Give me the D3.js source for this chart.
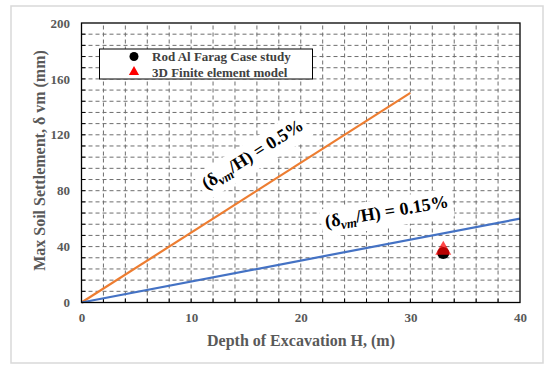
<!DOCTYPE html>
<html><head><meta charset="utf-8">
<script src="https://cdn.jsdelivr.net/npm/d3@7"></script>
<style>body{margin:0;background:#fff}svg{display:block}</style>
</head><body>
<script>
// ---- data ----
const orangeH = [0, 30];
const orangeS = [0, 150];      // δvm/H = 0.5%
const blueH = [0, 40];
const blueS = [0, 60];         // δvm/H = 0.15%
const caseStudyH = [33];
const caseStudyS = [35.4];
const femH = [33];
const femS = [37.5];
const xTicks = [0, 10, 20, 30, 40];
const yTicks = [0, 40, 80, 120, 160, 200];
const legendLabels = ["Rod Al Farag Case study", "3D Finite element model"];

const W = 550, H = 372;
const svg = d3.select("body").append("svg").attr("width", W).attr("height", H);
const font = "'Liberation Serif','Times New Roman',serif";

// outer frame
svg.append("rect").attr("x", 11).attr("y", 6).attr("width", 532).attr("height", 357)
  .attr("fill", "#fff").attr("stroke", "#d9d9d9").attr("stroke-width", 1.5);

const x = d3.scaleLinear().domain([0, 40]).range([81.5, 520]);
const y = d3.scaleLinear().domain([0, 200]).range([302.5, 23]);

// grid
const g = svg.append("g");
g.selectAll(".hg").data(d3.range(8, 200, 8)).enter().append("line")
  .attr("x1", x(0)).attr("x2", x(40)).attr("y1", d => y(d)).attr("y2", d => y(d))
  .attr("stroke", "#6e6e6e").attr("stroke-width", 1).attr("stroke-dasharray", "4,3");
g.selectAll(".vg").data(d3.range(2, 40, 2)).enter().append("line")
  .attr("y1", y(0)).attr("y2", y(200)).attr("x1", d => x(d)).attr("x2", d => x(d))
  .attr("stroke", "#6e6e6e").attr("stroke-width", 1).attr("stroke-dasharray", "4,3");

// inner minor ticks
g.selectAll(".xt").data(d3.range(2, 40, 2)).enter().append("line")
  .attr("x1", d => x(d)).attr("x2", d => x(d)).attr("y1", y(0)).attr("y2", y(0) - 4)
  .attr("stroke", "#000").attr("stroke-width", 1);
g.selectAll(".yt").data(d3.range(8, 200, 8)).enter().append("line")
  .attr("y1", d => y(d)).attr("y2", d => y(d)).attr("x1", x(0)).attr("x2", x(0) + 4)
  .attr("stroke", "#000").attr("stroke-width", 1);

// annotation text with white background
function annot(px, py, angle, pct) {
  const grp = svg.append("g").attr("transform", `translate(${px},${py}) rotate(${angle})`);
  const bg = grp.append("rect").attr("fill", "#fff");
  const t = grp.append("text").attr("font-family", font).attr("font-weight", "bold")
    .attr("font-size", 18).attr("fill", "#000");
  t.append("tspan").text("(δ");
  t.append("tspan").attr("font-style", "italic").attr("font-size", 13).attr("dy", 4).text("vm");
  t.append("tspan").attr("dy", -4).text("/H) = " + pct);
  const b = t.node().getBBox();
  bg.attr("x", b.x - 4).attr("y", b.y - 3).attr("width", b.width + 8).attr("height", b.height + 6);
}
annot(x(11.4), y(80.5), -32, "0.5%");
annot(x(22.3), y(53.5), -9.5, "0.15%");

// lines
const line = d3.line().x(d => x(d[0])).y(d => y(d[1]));
svg.append("path").datum(orangeH.map((h, i) => [h, orangeS[i]])).attr("d", line)
  .attr("fill", "none").attr("stroke", "#ed7d31").attr("stroke-width", 2.2);
svg.append("path").datum(blueH.map((h, i) => [h, blueS[i]])).attr("d", line)
  .attr("fill", "none").attr("stroke", "#4472c4").attr("stroke-width", 2.2);

// plot border
svg.append("rect").attr("x", x(0)).attr("y", y(200)).attr("width", x(40) - x(0)).attr("height", y(0) - y(200))
  .attr("fill", "none").attr("stroke", "#000").attr("stroke-width", 1.3);

// points
svg.selectAll(".cs").data(caseStudyH.map((h, i) => [h, caseStudyS[i]])).enter().append("circle")
  .attr("cx", d => x(d[0])).attr("cy", d => y(d[1])).attr("r", 6).attr("fill", "#000");
svg.selectAll(".fem").data(femH.map((h, i) => [h, femS[i]])).enter().append("path")
  .attr("d", d3.symbol().type(d3.symbolTriangle).size(111))
  .attr("transform", d => `translate(${x(d[0])},${y(d[1])})`).attr("fill", "#ff0000").attr("fill-opacity", 0.72);

// axes labels
const xa = svg.append("g").attr("transform", `translate(0,${y(0)})`)
  .call(d3.axisBottom(x).tickValues(xTicks).tickSize(0).tickPadding(10).tickFormat(d3.format("d")));
xa.select(".domain").remove();
const ya = svg.append("g").attr("transform", `translate(${x(0)},0)`)
  .call(d3.axisLeft(y).tickValues(yTicks).tickSize(0).tickPadding(11.5).tickFormat(d3.format("d")));
ya.select(".domain").remove();
svg.selectAll(".tick text").attr("font-family", font).attr("font-weight", "bold")
  .attr("font-size", 13).attr("fill", "#595959");

// titles
svg.append("text").attr("x", 301).attr("y", 346).attr("text-anchor", "middle")
  .attr("font-family", font).attr("font-weight", "bold").attr("font-size", 16).attr("fill", "#595959")
  .text("Depth of Excavation H, (m)");
svg.append("text").attr("transform", "translate(45,160.5) rotate(-90)").attr("text-anchor", "middle")
  .attr("font-family", font).attr("font-weight", "bold").attr("font-size", 16).attr("fill", "#595959")
  .text("Max Soil Settlement, δ vm (mm)");

// legend
const lg = svg.append("g");
lg.append("rect").attr("x", 99.5).attr("y", 49).attr("width", 213).attr("height", 30)
  .attr("fill", "#fff").attr("stroke", "#000").attr("stroke-width", 1);
lg.append("circle").attr("cx", 134).attr("cy", 56.5).attr("r", 4.5).attr("fill", "#000");
lg.append("path").attr("d", d3.symbol().type(d3.symbolTriangle).size(45)).attr("transform", "translate(134,72)").attr("fill", "#ff0000");
lg.selectAll(".lt").data(legendLabels).enter().append("text")
  .attr("x", 152).attr("y", (d, i) => 61 + i * 16)
  .attr("font-family", font).attr("font-weight", "bold").attr("font-size", 13).attr("fill", "#404040")
  .text(d => d);
</script>
</body></html>
